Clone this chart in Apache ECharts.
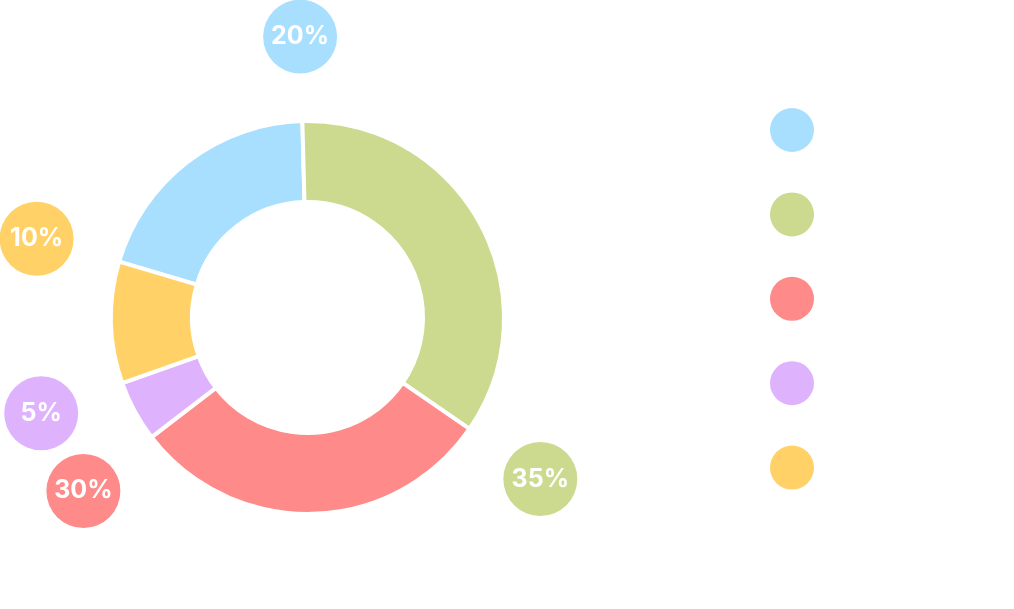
<!DOCTYPE html>
<html>
<head>
<meta charset="utf-8">
<script src="https://cdn.jsdelivr.net/npm/echarts@6/dist/echarts.min.js"></script>
<style>
html,body{margin:0;padding:0;background:#fff;}
#main{width:1014px;height:609px;}
</style>
</head>
<body>
<div id="main"></div>
<script>
// Data
var categories = ['A', 'B', 'C', 'D', 'E'];
var values = [20, 35, 30, 5, 10];
var colors = ['#A9DFFE', '#CCDA8F', '#FF8A8A', '#DFB2FE', '#FFD166'];

var CX = 307.5, CY = 317.5, START = 163.5, LABEL_DIST = 282.5;
var total = values.reduce(function (a, b) { return a + b; }, 0);

var chart = echarts.init(document.getElementById('main'));
var data = categories.map(function (c, i) {
  return {
    name: c,
    value: values[i],
    itemStyle: { color: colors[i] },
    label: { backgroundColor: colors[i] }
  };
});

chart.setOption({
  animation: false,
  legend: {
    orient: 'vertical',
    left: 765,
    top: 103,
    icon: 'circle',
    itemWidth: 44,
    itemHeight: 44,
    itemGap: 40.4,
    itemStyle: { borderWidth: 0 },
    formatter: function () { return ''; },
    data: categories
  },
  series: [{
    type: 'pie',
    center: [CX, CY],
    radius: [115.5, 196.5],
    startAngle: START,
    clockwise: true,
    avoidLabelOverlap: false,
    itemStyle: { borderColor: '#fff', borderWidth: 4 },
    label: {
      show: true,
      position: 'outside',
      formatter: '{c}%',
      color: '#fff',
      fontFamily: 'Inter',
      fontWeight: 700,
      fontSize: 25,
      width: 74,
      height: 74,
      lineHeight: 78,
      align: 'center',
      borderRadius: 37,
      padding: 0
    },
    labelLine: { show: false },
    labelLayout: function (p) {
      var cum = 0;
      for (var i = 0; i <= p.dataIndex; i++) cum += values[i];
      var ang = (START - cum / total * 360) * Math.PI / 180;
      return {
        x: CX + LABEL_DIST * Math.cos(ang),
        y: CY + 1.5 - LABEL_DIST * Math.sin(ang),
        align: 'center',
        verticalAlign: 'middle'
      };
    },
    emphasis: { scale: false },
    data: data
  }]
});
</script>
</body>
</html>
